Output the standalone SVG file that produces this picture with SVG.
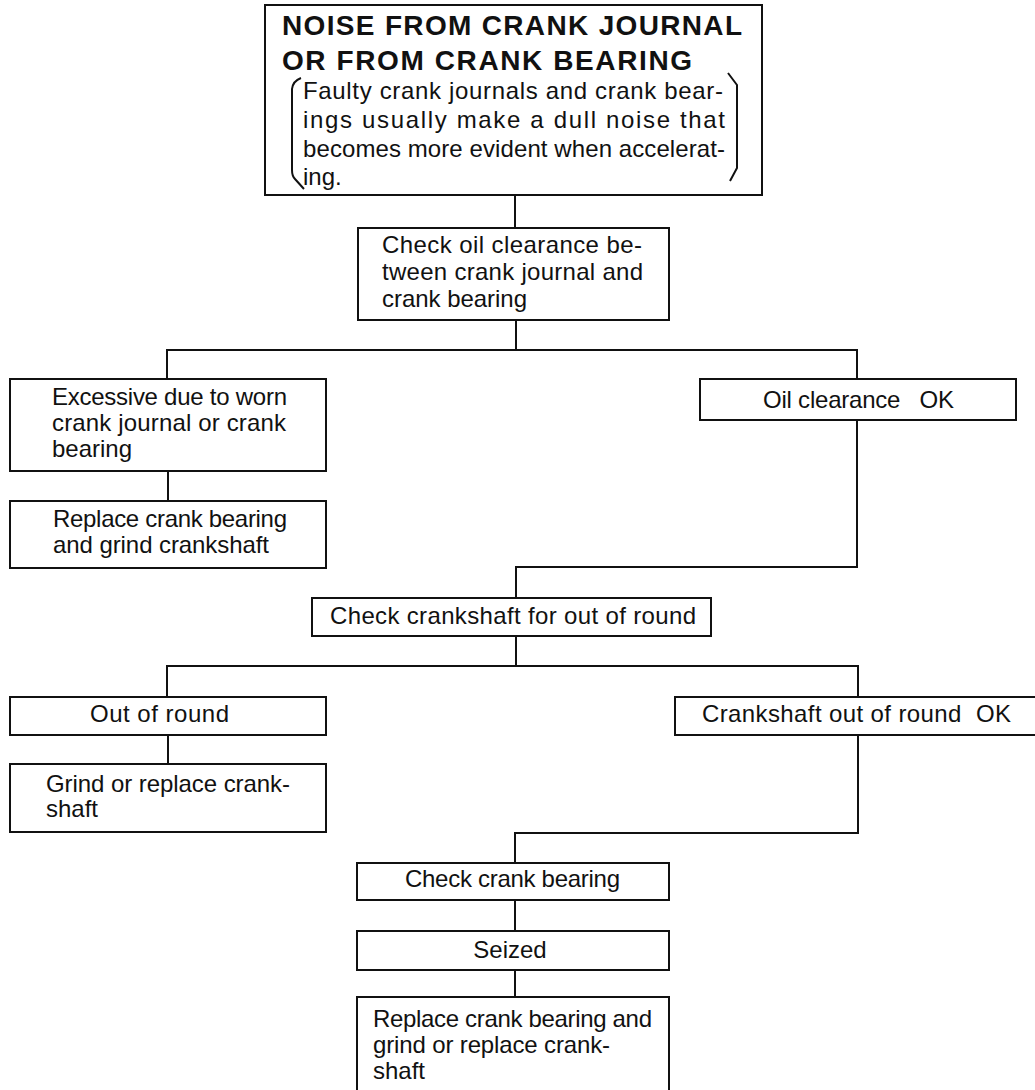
<svg xmlns="http://www.w3.org/2000/svg" width="1035" height="1090" viewBox="0 0 1035 1090">
<style>
.box{fill:#fff;stroke:#111;stroke-width:2}
.ln{fill:none;stroke:#111;stroke-width:2}
.t{font-family:"Liberation Sans",Arial,sans-serif;font-size:24px;fill:#111}
.b{font-family:"Liberation Sans",Arial,sans-serif;font-size:28px;font-weight:bold;fill:#111}
</style>
<rect width="1035" height="1090" fill="#fff"/>
<g id="connectors" class="ln">
<path d="M515 195V228"/>
<path d="M516 320V350M167 379V350H857V379M857 420V567H516V598"/>
<path d="M168 471V501"/>
<path d="M516 636V666M167 697V666H858V697M858 735V833H515V863"/>
<path d="M168 735V764"/>
<path d="M515 900V931M515 970V997"/>
</g>
<g id="n_title">
<rect class="box" x="265" y="5" width="497" height="190"/>
<text class="b" x="282" y="35" textLength="460" lengthAdjust="spacing">NOISE FROM CRANK JOURNAL</text>
<text class="b" x="282" y="70" textLength="410" lengthAdjust="spacing">OR FROM CRANK BEARING</text>
<path class="ln" d="M301 78Q293 81 292 89V170Q292 176 295 179L304 189"/>
<path class="ln" d="M728 73L737 85V168L730 181"/>
<text class="t" x="303" y="99" textLength="420" lengthAdjust="spacing">Faulty crank journals and crank bear-</text>
<text class="t" x="303" y="128" textLength="422" lengthAdjust="spacing">ings usually make a dull noise that</text>
<text class="t" x="303" y="157" textLength="422" lengthAdjust="spacing">becomes more evident when accelerat-</text>
<text class="t" x="303" y="185">ing.</text>
</g>
<g id="n_check_oil">
<rect class="box" x="358" y="228" width="311" height="92"/>
<text class="t" x="382" y="253" textLength="260" lengthAdjust="spacing">Check oil clearance be-</text>
<text class="t" x="382" y="280" textLength="261" lengthAdjust="spacing">tween crank journal and</text>
<text class="t" x="382" y="307" textLength="145" lengthAdjust="spacing">crank bearing</text>
</g>
<g id="n_excessive">
<rect class="box" x="10" y="379" width="316" height="92"/>
<text class="t" x="52" y="405" textLength="235" lengthAdjust="spacing">Excessive due to worn</text>
<text class="t" x="52" y="431" textLength="234" lengthAdjust="spacing">crank journal or crank</text>
<text class="t" x="52" y="457">bearing</text>
</g>
<g id="n_replace1">
<rect class="box" x="10" y="501" width="316" height="67"/>
<text class="t" x="53" y="527" textLength="234" lengthAdjust="spacing">Replace crank bearing</text>
<text class="t" x="53" y="553" textLength="216" lengthAdjust="spacing">and grind crankshaft</text>
</g>
<g id="n_oil_ok">
<rect class="box" x="700" y="379" width="316" height="41"/>
<text class="t" x="763" y="408" textLength="191" lengthAdjust="spacing" xml:space="preserve">Oil clearance   OK</text>
</g>
<g id="n_check_shaft">
<rect class="box" x="312" y="598" width="399" height="38"/>
<text class="t" x="330" y="624" textLength="366" lengthAdjust="spacing">Check crankshaft for out of round</text>
</g>
<g id="n_out_round">
<rect class="box" x="10" y="697" width="316" height="38"/>
<text class="t" x="90" y="722" textLength="139" lengthAdjust="spacing">Out of round</text>
</g>
<g id="n_grind">
<rect class="box" x="10" y="764" width="316" height="68"/>
<text class="t" x="46" y="792" textLength="244" lengthAdjust="spacing">Grind or replace crank-</text>
<text class="t" x="46" y="817">shaft</text>
</g>
<g id="n_shaft_ok">
<rect class="box" x="675" y="697" width="370" height="38"/>
<text class="t" x="702" y="722" textLength="309" lengthAdjust="spacing" xml:space="preserve">Crankshaft out of round  OK</text>
</g>
<g id="n_check_bearing">
<rect class="box" x="357" y="863" width="312" height="37"/>
<text class="t" x="405" y="887" textLength="215" lengthAdjust="spacing">Check crank bearing</text>
</g>
<g id="n_seized">
<rect class="box" x="357" y="931" width="312" height="39"/>
<text class="t" x="510" y="958" text-anchor="middle">Seized</text>
</g>
<g id="n_replace2">
<rect class="box" x="357" y="997" width="312" height="100"/>
<text class="t" x="373" y="1027" textLength="279" lengthAdjust="spacing">Replace crank bearing and</text>
<text class="t" x="373" y="1053" textLength="237" lengthAdjust="spacing">grind or replace crank-</text>
<text class="t" x="373" y="1079">shaft</text>
</g>
</svg>
